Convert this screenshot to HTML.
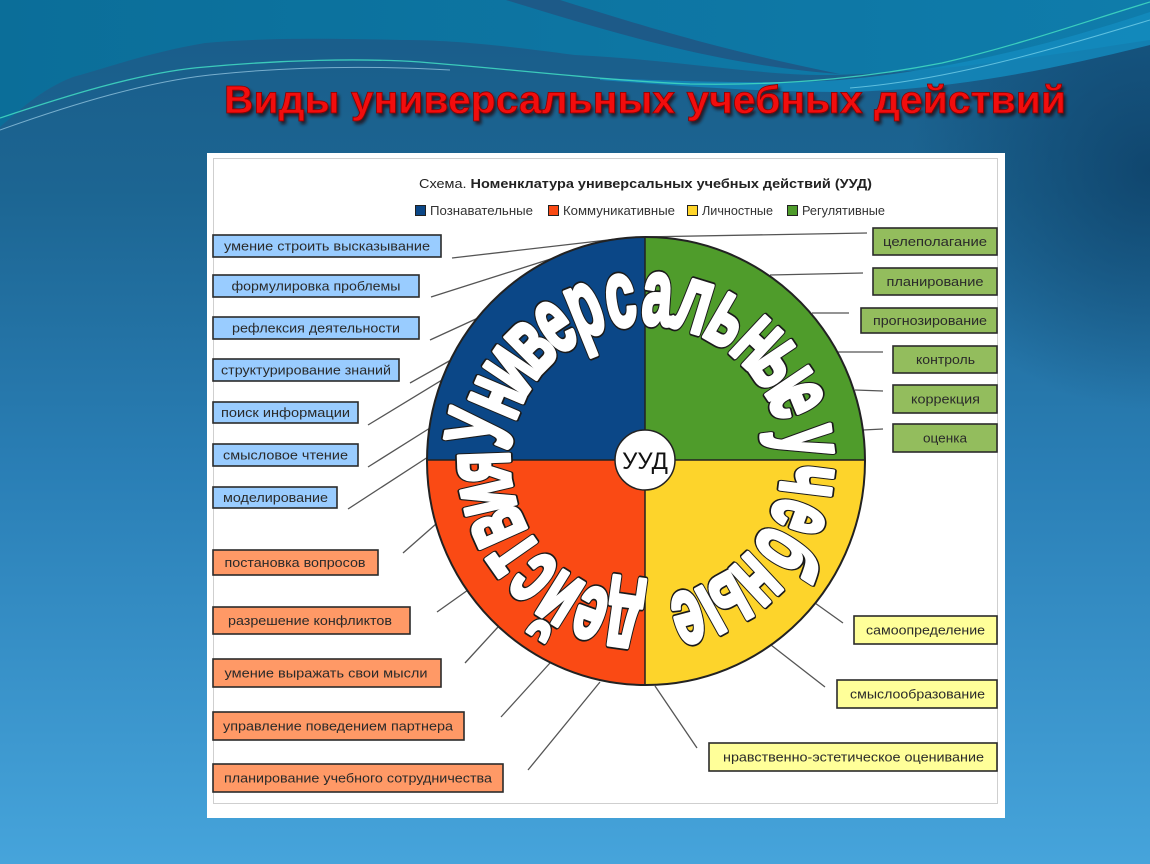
<!DOCTYPE html>
<html><head><meta charset="utf-8"><style>
html,body{margin:0;padding:0;background:#1b5e8c;}
svg{display:block;}
text{font-family:"Liberation Sans",Arial,"Noto Sans CJK SC",sans-serif;}
</style></head><body>
<svg width="1150" height="864" viewBox="0 0 1150 864" xmlns="http://www.w3.org/2000/svg">
<defs>
<linearGradient id="bg" x1="0" y1="0" x2="0" y2="1">
<stop offset="0" stop-color="#195c89"/>
<stop offset="0.22" stop-color="#1c6592"/>
<stop offset="0.55" stop-color="#2a7fb6"/>
<stop offset="1" stop-color="#46a4db"/>
</linearGradient>
<radialGradient id="dk" cx="1150" cy="170" r="240" gradientUnits="userSpaceOnUse">
<stop offset="0" stop-color="#0d3f66" stop-opacity="0.8"/>
<stop offset="1" stop-color="#0d3f66" stop-opacity="0"/>
</radialGradient>
<linearGradient id="teal" x1="0" y1="0" x2="1" y2="0">
<stop offset="0" stop-color="#0b6e99"/>
<stop offset="1" stop-color="#0f7cab"/>
</linearGradient>
<filter id="sh" x="-5%" y="-30%" width="110%" height="160%">
<feDropShadow dx="2" dy="3" stdDeviation="1.5" flood-color="#200000" flood-opacity="0.7"/>
</filter>
<g id="letters">
<text transform="translate(646,461) rotate(-79) translate(0,-137) scale(0.57,1)">У</text>
<text transform="translate(646,461) rotate(-67) translate(0,-137) scale(0.57,1)">н</text>
<text transform="translate(646,461) rotate(-56) translate(0,-137) scale(0.57,1)">и</text>
<text transform="translate(646,461) rotate(-45) translate(0,-137) scale(0.57,1)">в</text>
<text transform="translate(646,461) rotate(-34) translate(0,-137) scale(0.57,1)">е</text>
<text transform="translate(646,461) rotate(-22) translate(0,-137) scale(0.57,1)">р</text>
<text transform="translate(646,461) rotate(-9) translate(0,-137) scale(0.57,1)">с</text>
<text transform="translate(646,461) rotate(4) translate(0,-137) scale(0.57,1)">а</text>
<text transform="translate(646,461) rotate(17) translate(0,-137) scale(0.57,1)">л</text>
<text transform="translate(646,461) rotate(30) translate(0,-137) scale(0.57,1)">ь</text>
<text transform="translate(646,461) rotate(43) translate(0,-137) scale(0.57,1)">н</text>
<text transform="translate(646,461) rotate(56) translate(0,-137) scale(0.57,1)">ы</text>
<text transform="translate(646,461) rotate(68) translate(0,-137) scale(0.57,1)">е</text>
<text transform="translate(646,461) rotate(83) translate(0,-137) scale(0.57,1)">у</text>
<text transform="translate(646,461) rotate(97) translate(0,-137) scale(0.57,1)">ч</text>
<text transform="translate(646,461) rotate(110) translate(0,-137) scale(0.57,1)">е</text>
<text transform="translate(646,461) rotate(123) translate(0,-137) scale(0.57,1)">б</text>
<text transform="translate(646,461) rotate(137) translate(0,-137) scale(0.57,1)">н</text>
<text transform="translate(646,461) rotate(151) translate(0,-137) scale(0.57,1)">ы</text>
<text transform="translate(646,461) rotate(165) translate(0,-137) scale(0.57,1)">е</text>
<text transform="translate(646,461) rotate(188) translate(0,-137) scale(0.57,1)">д</text>
<text transform="translate(646,461) rotate(200) translate(0,-137) scale(0.57,1)">е</text>
<text transform="translate(646,461) rotate(212) translate(0,-137) scale(0.57,1)">й</text>
<text transform="translate(646,461) rotate(224) translate(0,-137) scale(0.57,1)">с</text>
<text transform="translate(646,461) rotate(235) translate(0,-137) scale(0.57,1)">т</text>
<text transform="translate(646,461) rotate(246) translate(0,-137) scale(0.57,1)">в</text>
<text transform="translate(646,461) rotate(257) translate(0,-137) scale(0.57,1)">и</text>
<text transform="translate(646,461) rotate(268) translate(0,-137) scale(0.57,1)">я</text>
</g>
</defs>

<!-- background -->
<rect width="1150" height="864" fill="url(#bg)"/>
<rect width="1150" height="864" fill="url(#dk)"/>
<path d="M0,0 H1150 V40 C1050,55 950,72 832,75 C 760,76 680,60 575,55 C 500,45 450,40 403,40 C 320,38 260,38 205,43 C 150,52 100,70 73,77 C 40,90 20,110 0,127 Z" fill="url(#teal)"/>
<path d="M600,78 C 700,82 780,84 840,80 C 950,70 1050,45 1150,12 V45 C 1050,70 950,90 845,92 C 760,92 680,86 600,80 Z" fill="#138cbf" opacity="0.8"/>
<path d="M506,0 L560,0 C 640,25 720,50 840,74 C 720,65 620,35 506,0 Z" fill="#1d5a88"/>
<path d="M0,118 C 60,98 140,72 205,67 C 280,60 360,58 420,62 C 520,70 600,80 690,84 C 800,86 880,75 942,63 C 1020,45 1090,20 1150,2" fill="none" stroke="#3fd6c0" stroke-width="1.3" opacity="0.9"/>
<path d="M0,130 C 70,105 150,80 220,74 C 300,66 380,66 450,70" fill="none" stroke="#9fd0e8" stroke-width="1" opacity="0.7"/>
<path d="M850,88 C 950,80 1050,50 1150,20" fill="none" stroke="#7fd8f0" stroke-width="1" opacity="0.7"/>

<!-- title -->
<text x="224" y="113" font-size="39" font-weight="bold" fill="#f20d0d" stroke="#8a0000" stroke-width="0.8" textLength="842" lengthAdjust="spacingAndGlyphs" filter="url(#sh)">Виды универсальных учебных действий</text>

<!-- panel -->
<rect x="207" y="153" width="798" height="665" fill="#ffffff"/>
<rect x="213.5" y="158.5" width="784" height="645" fill="none" stroke="#cfcfcf" stroke-width="1"/>

<!-- chart title -->
<text x="419" y="188" font-size="13" fill="#222" textLength="453" lengthAdjust="spacingAndGlyphs">Схема. <tspan font-weight="bold">Номенклатура универсальных учебных действий (УУД)</tspan></text>

<!-- legend -->
<g font-size="12.5" fill="#333">
<rect x="415.5" y="205.5" width="10" height="10" fill="#0b4787" stroke="#222" stroke-width="1"/>
<text x="430" y="215" textLength="103" lengthAdjust="spacingAndGlyphs">Познавательные</text>
<rect x="548.5" y="205.5" width="10" height="10" fill="#fa4a14" stroke="#222" stroke-width="1"/>
<text x="563" y="215" textLength="112" lengthAdjust="spacingAndGlyphs">Коммуникативные</text>
<rect x="687.5" y="205.5" width="10" height="10" fill="#ffd52a" stroke="#222" stroke-width="1"/>
<text x="702" y="215" textLength="71" lengthAdjust="spacingAndGlyphs">Личностные</text>
<rect x="787.5" y="205.5" width="10" height="10" fill="#4f9c2b" stroke="#222" stroke-width="1"/>
<text x="802" y="215" textLength="83" lengthAdjust="spacingAndGlyphs">Регулятивные</text>
</g>

<!-- connectors -->
<g stroke="#555" stroke-width="1.3" fill="none">
<line x1="452" y1="258" x2="625" y2="238"/>
<line x1="867" y1="233" x2="640" y2="237"/>
<line x1="431" y1="297" x2="560" y2="256"/>
<line x1="430" y1="340" x2="478" y2="318"/>
<line x1="410" y1="383" x2="451" y2="360"/>
<line x1="368" y1="425" x2="442" y2="380"/>
<line x1="368" y1="467" x2="430" y2="428"/>
<line x1="348" y1="509" x2="428" y2="457"/>
<line x1="403" y1="553" x2="436" y2="524"/>
<line x1="437" y1="612" x2="468" y2="590"/>
<line x1="465" y1="663" x2="498" y2="627"/>
<line x1="501" y1="717" x2="550" y2="663"/>
<line x1="528" y1="770" x2="600" y2="682"/>
<line x1="863" y1="273" x2="770" y2="275"/>
<line x1="849" y1="313" x2="812" y2="313"/>
<line x1="883" y1="352" x2="837" y2="352"/>
<line x1="883" y1="391" x2="855" y2="390"/>
<line x1="883" y1="429" x2="863" y2="430"/>
<line x1="843" y1="623" x2="815" y2="603"/>
<line x1="825" y1="687" x2="771" y2="645"/>
<line x1="697" y1="748" x2="655" y2="686"/>
</g>

<!-- wheel -->
<clipPath id="wc"><ellipse cx="646" cy="461" rx="219" ry="224"/></clipPath>
<g clip-path="url(#wc)">
<rect x="420" y="230" width="225" height="230" fill="#0b4787"/>
<rect x="645" y="230" width="230" height="230" fill="#4f9c2b"/>
<rect x="420" y="460" width="225" height="230" fill="#fa4a14"/>
<rect x="645" y="460" width="230" height="230" fill="#fdd42b"/>
</g>
<line x1="645" y1="237" x2="645" y2="685" stroke="#222" stroke-width="1.5"/>
<line x1="427" y1="460" x2="865" y2="460" stroke="#222" stroke-width="1.5"/>
<ellipse cx="646" cy="461" rx="219" ry="224" fill="none" stroke="#222" stroke-width="2"/>

<!-- curved text: dark outline layer, then thick white layer -->
<g font-size="94" font-weight="bold" text-anchor="middle">
<use href="#letters" fill="#1a1a1a" stroke="#1a1a1a" stroke-width="8" stroke-linejoin="round"/>
<use href="#letters" fill="#ffffff" stroke="#ffffff" stroke-width="4.5" stroke-linejoin="round"/>
</g>

<!-- center -->
<circle cx="645" cy="460" r="30" fill="#ffffff" stroke="#222" stroke-width="1.5"/>
<text x="645" y="469" font-size="24" fill="#111" text-anchor="middle">УУД</text>

<!-- boxes -->
<g stroke="#2b2b2b" stroke-width="1.6">
<rect x="213" y="235" width="228" height="22" fill="#99ccff"/>
<rect x="213" y="275" width="206" height="22" fill="#99ccff"/>
<rect x="213" y="317" width="206" height="22" fill="#99ccff"/>
<rect x="213" y="359" width="186" height="22" fill="#99ccff"/>
<rect x="213" y="402" width="145" height="21" fill="#99ccff"/>
<rect x="213" y="444" width="145" height="22" fill="#99ccff"/>
<rect x="213" y="487" width="124" height="21" fill="#99ccff"/>
<rect x="213" y="550" width="165" height="25" fill="#ff9966"/>
<rect x="213" y="607" width="197" height="27" fill="#ff9966"/>
<rect x="213" y="659" width="228" height="28" fill="#ff9966"/>
<rect x="213" y="712" width="251" height="28" fill="#ff9966"/>
<rect x="213" y="764" width="290" height="28" fill="#ff9966"/>
<rect x="873" y="228" width="124" height="27" fill="#93bd5d"/>
<rect x="873" y="268" width="124" height="27" fill="#93bd5d"/>
<rect x="861" y="308" width="136" height="25" fill="#93bd5d"/>
<rect x="893" y="346" width="104" height="27" fill="#93bd5d"/>
<rect x="893" y="385" width="104" height="28" fill="#93bd5d"/>
<rect x="893" y="424" width="104" height="28" fill="#93bd5d"/>
<rect x="854" y="616" width="143" height="28" fill="#ffff99"/>
<rect x="837" y="680" width="160" height="28" fill="#ffff99"/>
<rect x="709" y="743" width="288" height="28" fill="#ffff99"/>
</g>

<g font-size="13" fill="#2a2a2a" text-anchor="middle">
<text x="327" y="250.5" textLength="206" lengthAdjust="spacingAndGlyphs">умение строить высказывание</text>
<text x="316" y="290.5" textLength="169" lengthAdjust="spacingAndGlyphs">формулировка проблемы</text>
<text x="316" y="332.5" textLength="168" lengthAdjust="spacingAndGlyphs">рефлексия деятельности</text>
<text x="306" y="374.5" textLength="170" lengthAdjust="spacingAndGlyphs">структурирование знаний</text>
<text x="285.5" y="417" textLength="129" lengthAdjust="spacingAndGlyphs">поиск информации</text>
<text x="285.5" y="459.5" textLength="125" lengthAdjust="spacingAndGlyphs">смысловое чтение</text>
<text x="275.5" y="502" textLength="105" lengthAdjust="spacingAndGlyphs">моделирование</text>
<text x="295" y="567" textLength="141" lengthAdjust="spacingAndGlyphs">постановка вопросов</text>
<text x="310" y="625" textLength="164" lengthAdjust="spacingAndGlyphs">разрешение конфликтов</text>
<text x="326" y="677.5" textLength="203" lengthAdjust="spacingAndGlyphs">умение выражать свои мысли</text>
<text x="338" y="730.5" textLength="230" lengthAdjust="spacingAndGlyphs">управление поведением партнера</text>
<text x="358" y="782.5" textLength="268" lengthAdjust="spacingAndGlyphs">планирование учебного сотрудничества</text>
<text x="935" y="246" textLength="104" lengthAdjust="spacingAndGlyphs">целеполагание</text>
<text x="935" y="286" textLength="97" lengthAdjust="spacingAndGlyphs">планирование</text>
<text x="930" y="325" textLength="114" lengthAdjust="spacingAndGlyphs">прогнозирование</text>
<text x="945.5" y="364" textLength="59" lengthAdjust="spacingAndGlyphs">контроль</text>
<text x="945.5" y="403.5" textLength="69" lengthAdjust="spacingAndGlyphs">коррекция</text>
<text x="945" y="442.5" textLength="44" lengthAdjust="spacingAndGlyphs">оценка</text>
<text x="925.5" y="634.5" textLength="119" lengthAdjust="spacingAndGlyphs">самоопределение</text>
<text x="917.5" y="698.5" textLength="135" lengthAdjust="spacingAndGlyphs">смыслообразование</text>
<text x="853.5" y="761.5" textLength="261" lengthAdjust="spacingAndGlyphs">нравственно-эстетическое оценивание</text>
</g>
</svg>
</body></html>
